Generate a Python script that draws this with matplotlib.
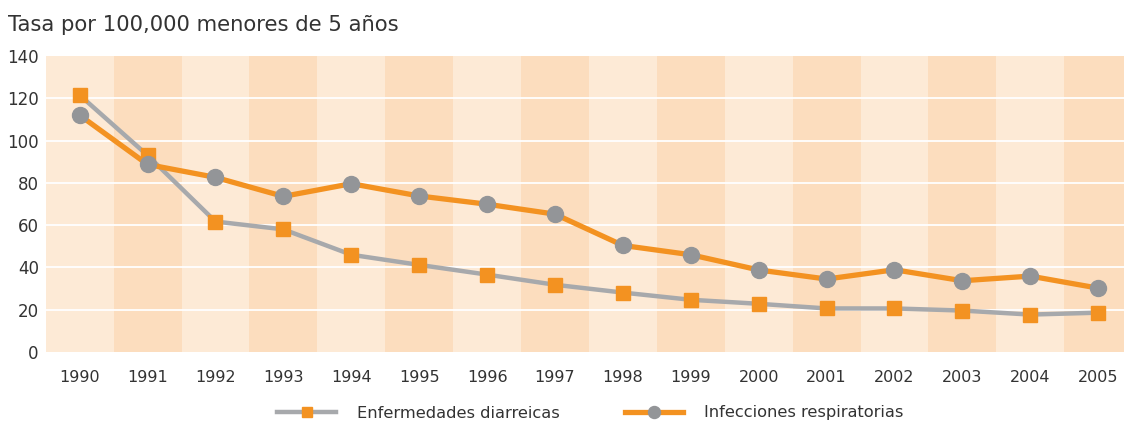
import numpy as np
import matplotlib
matplotlib.use("Agg")
import matplotlib.pyplot as plt

# ------------------------------
# Data
# ------------------------------
years = ['1990', '1991', '1992', '1993', '1994', '1995', '1996', '1997',
         '1998', '1999', '2000', '2001', '2002', '2003', '2004', '2005']
diarreicas = [121.5, 93, 61.7, 58, 46, 41.2, 36.6, 31.8, 28.1, 24.7,
              22.8, 20.6, 20.6, 19.6, 17.7, 18.6]
respiratorias = [112, 88.7, 82.6, 73.6, 79.6, 73.8, 69.9, 65.2, 50.4, 46,
                 38.8, 34.5, 38.9, 33.7, 35.9, 30.2]
y_ticks = [0, 20, 40, 60, 80, 100, 120, 140]

orange = '#F39221'
gray_line = '#A7A9AC'
gray_mark = '#939598'
band_light = '#FDEAD6'
band_dark = '#FCDDBE'
text_col = '#333333'

plt.rcParams['font.family'] = ['DejaVu Sans']

fig = plt.figure(figsize=(11.24, 4.24), dpi=100)
ax = fig.add_axes([45.7 / 1124, (424 - 352) / 424, (1124 - 45.7) / 1124, (352 - 56) / 424])

x = np.arange(len(years))

# alternating background bands
for i in x:
    ax.axvspan(i - 0.5, i + 0.5, color=band_light if i % 2 == 0 else band_dark,
               lw=0, zorder=0)

for v in y_ticks[1:-1]:
    ax.axhline(v, color='white', lw=1.3, zorder=1)

ax.plot(x, diarreicas, color=gray_line, lw=3.2, marker='s', markersize=10,
        markerfacecolor=orange, markeredgecolor=orange, zorder=3,
        label='Enfermedades diarreicas')
ax.plot(x, respiratorias, color=orange, lw=3.8, marker='o', markersize=11.5,
        markerfacecolor=gray_mark, markeredgecolor=gray_mark, zorder=4,
        label='Infecciones respiratorias')

ax.set_xlim(-0.5, 15.38)
ax.set_ylim(0, 140)
ax.set_xticks(x)
ax.set_xticklabels(years)
ax.set_yticks(y_ticks)
ax.tick_params(axis='x', length=0, pad=13, labelsize=11.5, colors=text_col)
ax.tick_params(axis='y', length=0, pad=5, labelsize=12, colors=text_col)
for s in ax.spines.values():
    s.set_visible(False)

fig.text(8 / 1124, 1 - 25 / 424, 'Tasa por 100,000 menores de 5 años',
         fontsize=15.2, color=text_col, va='center', ha='left')

fig.legend(loc='center', bbox_to_anchor=(0.5255, 1 - 413 / 424), ncol=2,
           frameon=False, fontsize=11.7, handlelength=3.6, handletextpad=1.3,
           columnspacing=4.0, labelcolor=text_col, markerscale=0.75)

fig.savefig('out.png', dpi=100)
